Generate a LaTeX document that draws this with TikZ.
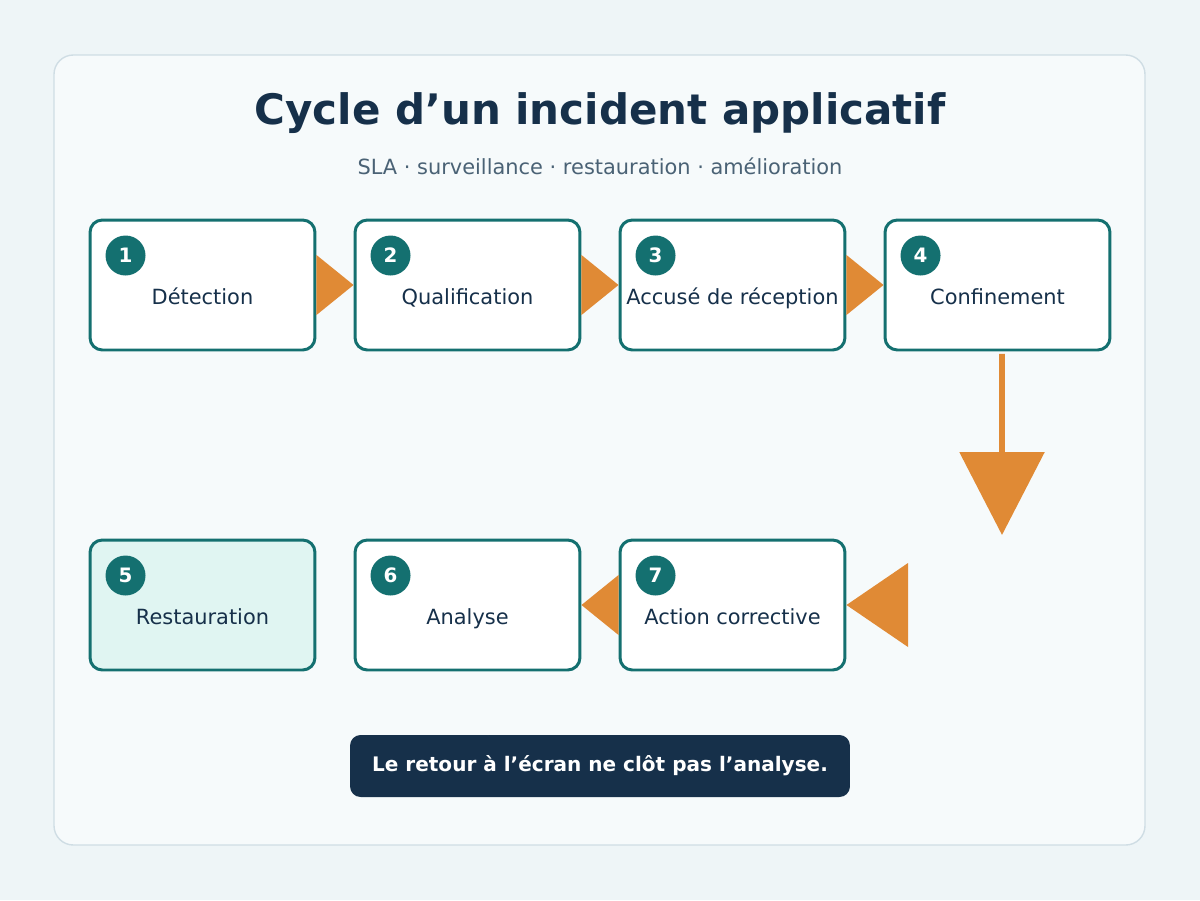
\documentclass[tikz,border=0pt]{standalone}
\usepackage{fontspec}
\setmainfont{DejaVu Sans}
\usetikzlibrary{arrows.meta}
\definecolor{bgc}{HTML}{EEF5F7}
\definecolor{cardc}{HTML}{F6FAFB}
\definecolor{cardl}{HTML}{CFDDE4}
\definecolor{navy}{HTML}{16304A}
\definecolor{greyb}{HTML}{4A6275}
\definecolor{teal}{HTML}{147070}
\definecolor{mint}{HTML}{E0F5F2}
\definecolor{orng}{HTML}{E08A35}
\tikzset{
  stage/.style={draw=teal,line width=1.7pt,rounded corners=7pt,fill=white,
    minimum width=4.5cm,minimum height=2.6cm,inner sep=0pt,
    text height=1.5ex+0.56cm,text depth=0.4ex,
    text=navy,font=\fontsize{11.9}{14}\selectfont},
  num/.style={circle,fill=teal,minimum size=0.8cm,inner sep=0pt,text=white,
    font=\bfseries\fontsize{11.3}{13}\selectfont},
  flow/.style={orng,line width=3.4pt},
}
\begin{document}
\begin{tikzpicture}[x=0.02cm,y=-0.02cm]
\fill[bgc] (0,0) rectangle (1200,900);
\draw[cardl,fill=cardc,line width=0.8pt,rounded corners=11pt] (54,55) rectangle (1145,845);
\node[text=navy,font=\bfseries\fontsize{23.9}{28}\selectfont] (title) at (600,113) {Cycle d’un incident applicatif};
\node[text=greyb,font=\fontsize{11.9}{14}\selectfont] (sub) at (600,166) {SLA · surveillance · restauration · amélioration};
\coordinate (c4) at (1002,535);
\coordinate (c7) at (908,605);
\path (202.5,285) coordinate (p1) (467.5,285) coordinate (p2) (732.5,285) coordinate (p3) (997.5,285) coordinate (p4)
  (202.5,605) coordinate (p5) (467.5,605) coordinate (p6) (732.5,605) coordinate (p7);
% steps
\foreach \i/\t in {1/Détection,2/Qualification,3/Accusé de réception,4/Confinement,6/Analyse,7/Action corrective}
  \node[stage] (b\i) at (p\i) {\t};
\node[stage,fill=mint] (b5) at (p5) {Restauration};
% arrows
\foreach \a/\b in {1/2,2/3,3/4}
  \fill[orng] ([yshift=-0.6cm]b\a.east) -- ([yshift=0.6cm]b\a.east) -- (b\b.west) -- cycle;
\fill[orng] ([yshift=-0.6cm]b7.west) -- ([yshift=0.6cm]b7.west) -- (b6.east) -- cycle;
\draw[flow,-{Triangle[length=1.66cm,width=1.68cm]}] ([xshift=0.09cm,yshift=-0.05cm]b4.south) -- (c4);
\fill[orng] ([yshift=-0.84cm]c7) -- ([yshift=0.84cm]c7) -- (b7.east) -- cycle;
\foreach \i in {1,...,7}
  \node[num] (n\i) at ([xshift=0.74cm,yshift=-0.74cm]b\i.north west) {\i};
\node[fill=navy,rounded corners=6pt,minimum width=10cm,minimum height=1.24cm,text=white,
  font=\bfseries\fontsize{11.4}{13}\selectfont] (note) at (600,766) {Le retour à l’écran ne clôt pas l’analyse.};
\end{tikzpicture}
\end{document}
